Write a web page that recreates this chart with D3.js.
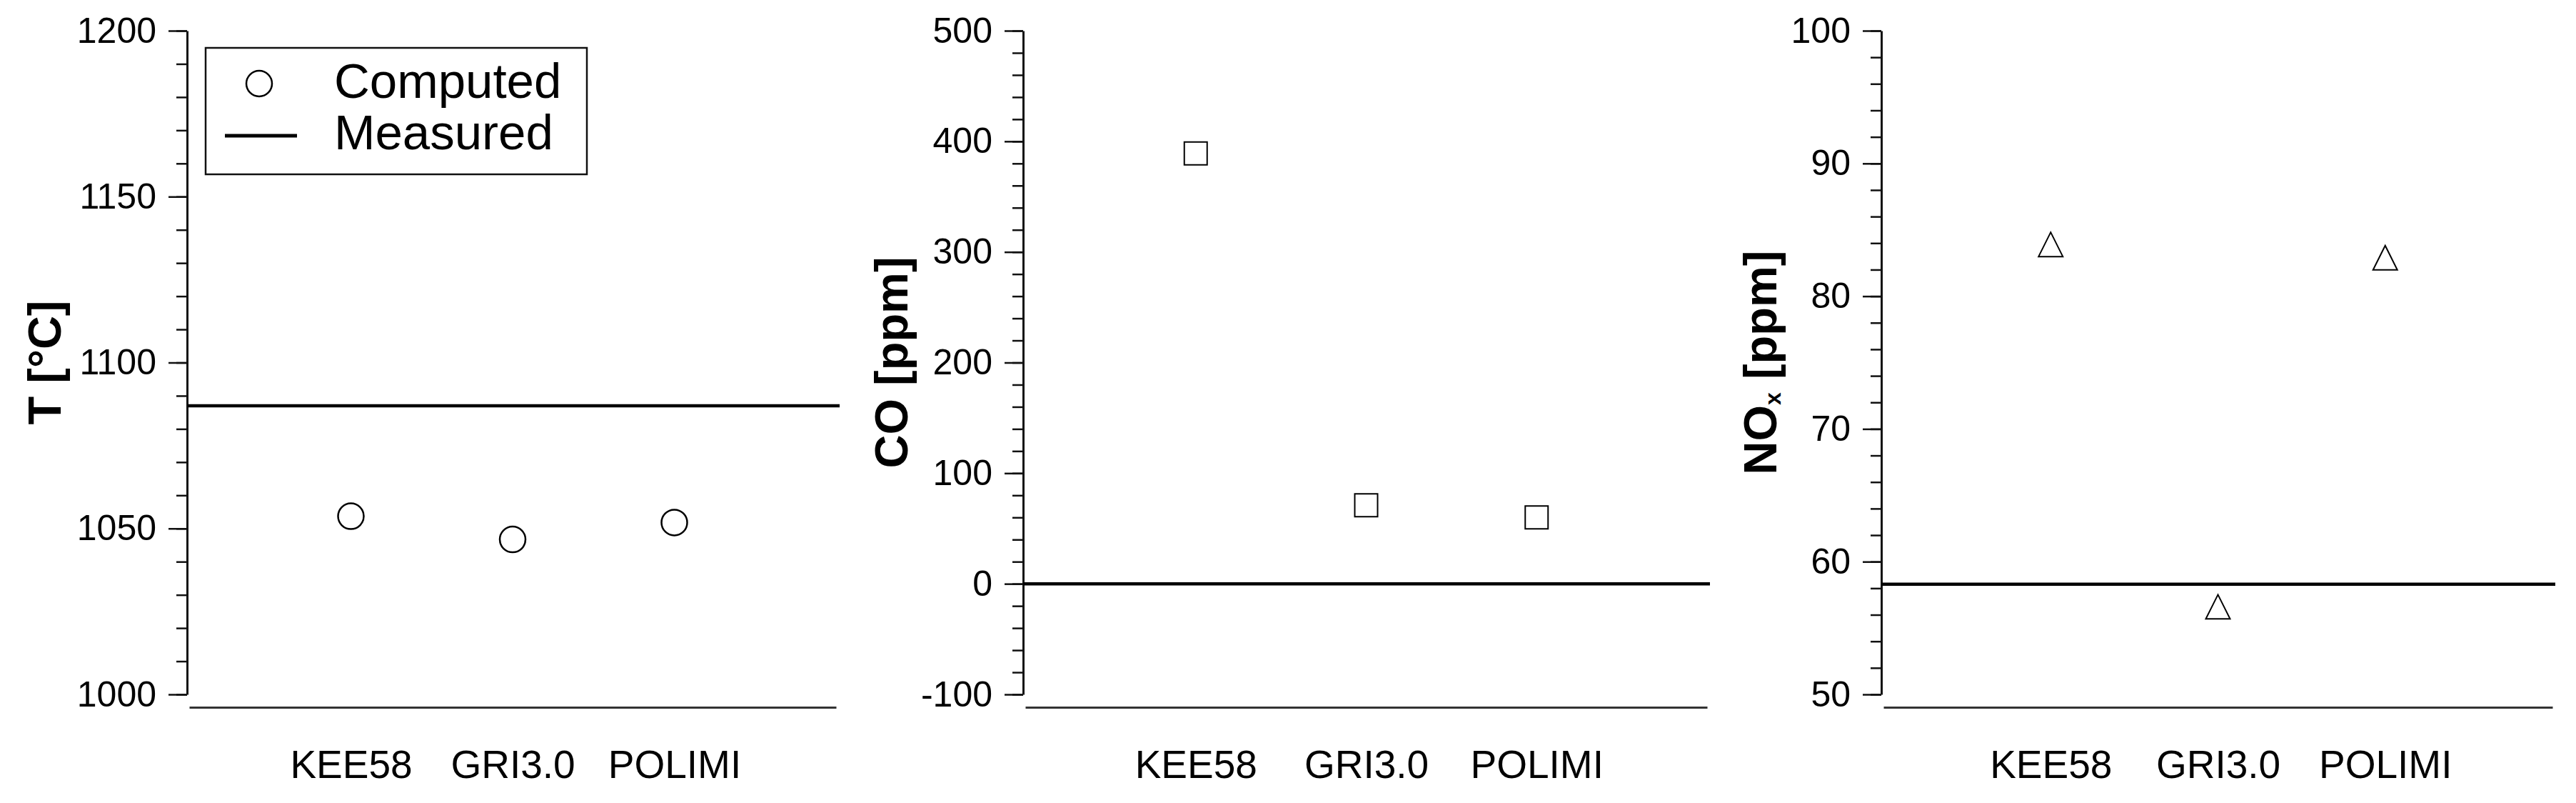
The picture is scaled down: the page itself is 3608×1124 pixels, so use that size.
<!DOCTYPE html>
<html>
<head>
<meta charset="utf-8">
<script src="https://cdn.jsdelivr.net/npm/d3@7"></script>
<style>
  body { margin: 0; background: #fff; }
  svg { display: block; font-family: "Liberation Sans", Arial, sans-serif; }
</style>
</head>
<body>
<div id="chart"></div>
<script>
const W = 3608, H = 1124;

// data
const models = ["KEE58", "GRI3.0", "POLIMI"];

const tempComputed = [1053.7, 1046.7, 1051.8];
const tempMeasured = 1087;
const tempTicks = [1000, 1050, 1100, 1150, 1200];

const coComputed = [389, 71, 60];
const coMeasured = 0;
const coTicks = [-100, 0, 100, 200, 300, 400, 500];

const noxComputed = [83.9, 56.6, 82.9];
const noxMeasured = 58.3;
const noxTicks = [50, 60, 70, 80, 90, 100];

// layout, one per panel
const yTop = 43, yBot = 972, baseY = 990;
const panels = [
  {axisX: 262, right: 1171, lineEnd: 1176, titleX: 85, minor: 10, marker: "circle",
   title: [["T [°C]"]], domain: [1000, 1200], ticks: tempTicks,
   computed: tempComputed, measured: tempMeasured},
  {axisX: 1433, right: 2391, lineEnd: 2395, titleX: 1271, minor: 20, marker: "square",
   title: [["CO [ppm]"]], domain: [-100, 500], ticks: coTicks,
   computed: coComputed, measured: coMeasured},
  {axisX: 2635, right: 3575, lineEnd: 3579, titleX: 2488, minor: 2, marker: "triangle",
   title: [["NO"], ["x", "sub"], [" [ppm]"]], domain: [50, 100], ticks: noxTicks,
   computed: noxComputed, measured: noxMeasured}
];

const svg = d3.select("#chart").append("svg")
    .attr("width", W)
    .attr("height", H);

function markerPath(type) {
  if (type === "square") return "M-16,-16H16V16H-16Z";
  if (type === "triangle") return "M0,-17L17,17H-17Z";
  return null;
}

panels.forEach(p => {
  const g = svg.append("g");

  const y = d3.scaleLinear().domain(p.domain).range([yBot, yTop]);
  const x = d3.scalePoint().domain(models).range([p.axisX + 3, p.right]).padding(1);

  // minor ticks
  g.append("g")
      .attr("transform", `translate(${p.axisX},0)`)
      .call(d3.axisLeft(y).tickValues(d3.range(p.domain[0], p.domain[1] + 1e-9, p.minor))
        .tickSize(15).tickSizeOuter(0).tickFormat(""))
      .call(a => a.select(".domain").remove())
      .call(a => a.selectAll("line").attr("stroke", "#111").attr("stroke-width", 2.5));

  // major ticks + labels (plain hyphen minus, no thousands separator)
  g.append("g")
      .attr("transform", `translate(${p.axisX},0)`)
      .call(d3.axisLeft(y).tickValues(p.ticks).tickFormat(d => String(d))
        .tickSize(26).tickSizeOuter(0).tickPadding(17))
      .call(a => a.select(".domain").attr("stroke", "#111").attr("stroke-width", 3))
      .call(a => a.selectAll("line").attr("stroke", "#111").attr("stroke-width", 2.5))
      .call(a => a.selectAll("text")
        .attr("font-size", 50)
        .attr("fill", "#000")
        .attr("font-family", "Liberation Sans, Arial, sans-serif"));

  // category axis, detached below the plot
  g.append("g")
      .attr("transform", `translate(0,${baseY})`)
      .call(d3.axisBottom(x).tickSize(0).tickSizeOuter(0).tickPadding(60))
      .call(a => a.select(".domain").attr("stroke", "#333").attr("stroke-width", 3))
      .call(a => a.selectAll("text")
        .attr("font-size", 55)
        .attr("fill", "#000")
        .attr("font-family", "Liberation Sans, Arial, sans-serif"));

  // measured value
  g.append("line")
      .attr("x1", p.axisX)
      .attr("x2", p.lineEnd)
      .attr("y1", y(p.measured))
      .attr("y2", y(p.measured))
      .attr("stroke", "#000")
      .attr("stroke-width", 4.5);

  // computed values
  const pts = g.append("g")
      .selectAll("g")
      .data(models.map((m, i) => ({model: m, value: p.computed[i]})))
      .join("g")
      .attr("transform", d => `translate(${x(d.model)},${y(d.value)})`);

  if (p.marker === "circle") {
    pts.append("circle").attr("r", 18);
  } else {
    pts.append("path").attr("d", markerPath(p.marker));
  }
  pts.selectAll("circle, path")
      .attr("fill", "none")
      .attr("stroke", "#000")
      .attr("stroke-width", p.marker === "circle" ? 2.5 : 2);

  // rotated y title
  const t = g.append("text")
      .attr("transform", `translate(${p.titleX},${(yTop + yBot) / 2}) rotate(-90)`)
      .attr("text-anchor", "middle")
      .attr("font-weight", "bold")
      .attr("font-size", 65)
      .attr("fill", "#000");
  let shifted = false;
  p.title.forEach(([s, kind]) => {
    const ts = t.append("tspan").text(s);
    if (kind === "sub") {
      ts.attr("font-size", 32).attr("dy", 6);
      shifted = true;
    } else if (shifted) {
      ts.attr("dy", -6);
      shifted = false;
    }
  });
});

// legend in the first panel
const legend = svg.append("g");
legend.append("rect")
    .attr("x", 288).attr("y", 67)
    .attr("width", 534).attr("height", 177)
    .attr("fill", "#fff")
    .attr("stroke", "#111")
    .attr("stroke-width", 2.5);
legend.append("circle")
    .attr("cx", 363).attr("cy", 117).attr("r", 18)
    .attr("fill", "none").attr("stroke", "#000").attr("stroke-width", 2.5);
legend.append("line")
    .attr("x1", 315).attr("x2", 416)
    .attr("y1", 190).attr("y2", 190)
    .attr("stroke", "#000").attr("stroke-width", 5);
legend.selectAll("text.lab")
    .data(["Computed", "Measured"])
    .join("text")
    .attr("class", "lab")
    .attr("x", 468)
    .attr("y", (d, i) => 137 + i * 72)
    .attr("font-size", 69)
    .attr("fill", "#000")
    .text(d => d);
</script>
</body>
</html>
